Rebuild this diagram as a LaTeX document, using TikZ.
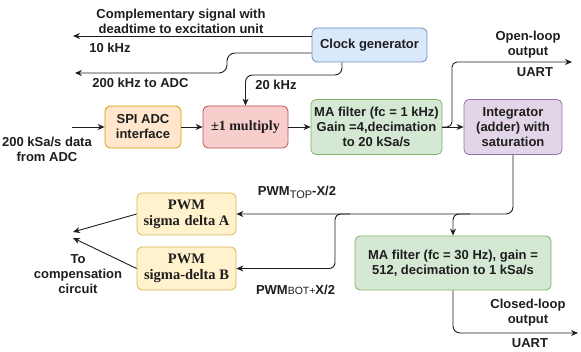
\documentclass[tikz,border=0pt]{standalone}
\usepackage{fontspec}
\setmainfont{Liberation Sans}
\newfontfamily\serifb{Liberation Serif}
\usetikzlibrary{arrows.meta}
\definecolor{bfill}{HTML}{DAE8FC}\definecolor{bdraw}{HTML}{6C8EBF}
\definecolor{ofill}{HTML}{FFE6CC}\definecolor{odraw}{HTML}{D79B00}
\definecolor{rfill}{HTML}{F8CECC}\definecolor{rdraw}{HTML}{B85450}
\definecolor{gfill}{HTML}{D5E8D4}\definecolor{gdraw}{HTML}{82B366}
\definecolor{pfill}{HTML}{E1D5E7}\definecolor{pdraw}{HTML}{9673A6}
\definecolor{yfill}{HTML}{FFF2CC}\definecolor{ydraw}{HTML}{D6B656}
\definecolor{ink}{HTML}{1E1E1E}
\begin{document}
\begin{tikzpicture}[x=1pt,y=-1pt,
  blk/.style={draw, rounded corners=5pt, line width=0.8pt, align=center, inner sep=1pt,
    text=ink, font=\bfseries\fontsize{13}{15}\selectfont},
  sblk/.style={blk, font=\serifb\bfseries\fontsize{14.5}{16}\selectfont},
  lbl/.style={align=center, inner sep=0pt, text=ink, font=\bfseries\fontsize{13}{15}\selectfont},
  arr/.style={draw=ink, line width=0.9pt, -{Stealth[length=7pt,width=6pt]}}]
\useasboundingbox (0,0) rectangle (581,352);

% boxes
\node[blk, fill=bfill, draw=bdraw, minimum width=115pt, minimum height=34pt] (clock) at (369.5,45) {Clock generator};
\node[blk, fill=ofill, draw=odraw, minimum width=76pt, minimum height=42pt] (spi) at (143,127) {SPI ADC\\interface};
\node[sblk, fill=rfill, draw=rdraw, minimum width=85pt, minimum height=42pt, font=\serifb\bfseries\fontsize{14}{16}\selectfont] (mult) at (245.5,127) {±1 multiply};
\node[blk, fill=gfill, draw=gdraw, minimum width=131pt, minimum height=55pt] (ma1) at (376.5,127) {MA filter (fc = 1 kHz)\\Gain =4,decimation\\to 20 kSa/s};
\node[blk, fill=pfill, draw=pdraw, minimum width=98pt, minimum height=55pt] (integ) at (513,127) {Integrator\\(adder) with\\saturation};
\node[sblk, fill=yfill, draw=ydraw, minimum width=99pt, minimum height=42pt] (pwma) at (186.5,214) {PWM\\sigma\,\,delta A};
\node[sblk, fill=yfill, draw=ydraw, minimum width=99pt, minimum height=43pt] (pwmb) at (186.5,268.5) {PWM\\sigma-delta B};
\node[blk, fill=gfill, draw=gdraw, minimum width=196pt, minimum height=54pt] (ma2) at (453,263) {MA filter (fc = 30 Hz), gain =\\512, decimation to 1 kSa/s};

% free ends
\coordinate (c10) at (73,36);
\coordinate (c53) at (0,53);
\coordinate (c200) at (75,73);
\coordinate (k20) at (342,75);
\coordinate (inp) at (72,127);
\coordinate (ol) at (572,62);
\coordinate (cl) at (578,333);
\coordinate (comp) at (73,232);
\coordinate (comp2) at (73,238);

% clock outputs
\draw[arr] (clock.west |- c10) -- (c10);
\draw[arr, rounded corners=8pt] (clock.west |- c53) -- (227,53) -- (227,73) -- (c200);
\draw[arr, rounded corners=7pt] (clock.south -| k20) -- (k20) -| (mult.north);

% main chain
\draw[arr] (inp) -- (spi.west);
\draw[arr] (spi.east) -- (mult.west);
\draw[arr] (mult.east) -- (mult.east -| ma1.west);
\draw[arr] (ma1.east) -- (integ.west);
\draw[arr, rounded corners=5pt] (ma1.east) -- (452,127) -- (452,62) -- (ol);

% integrator outputs
\draw[arr, rounded corners=7pt] (integ.south) -- (513,214) -- (pwma.east);
\draw[arr, rounded corners=6pt] (470,214) -- (453,214) -- (ma2.north);
\draw[arr, rounded corners=6pt] (350,214) -- (335,214) -- (335,268.5) -- (pwmb.east);

% pwm outputs
\draw[arr] (pwma.west) -- (comp);
\draw[arr] (pwmb.west) -- (comp2);

% closed-loop output
\draw[arr, rounded corners=7pt] (ma2.south) -- (453,333) -- (cl);

% labels
\node[lbl] (t1) at (181,21) {Complementary signal with\\deadtime to excitation unit};
\node[lbl] (t2) at (110,48) {10 kHz};
\node[lbl] (t3) at (140.5,83) {200 kHz to ADC};
\node[lbl] (t4) at (276,85) {20 kHz};
\node[lbl] (t5) at (47,149.5) {200 kSa/s data\\from ADC};
\node[lbl] (t6) at (528,45) {Open-loop\\output};
\node[lbl] (t7) at (535,72) {UART};
\node[lbl] (t8) at (297,192) {PWM\raisebox{-3pt}{\mdseries\fontsize{11}{12}\selectfont TOP}-X/2};
\node[lbl] (t9) at (295.5,290) {PWM{\mdseries\fontsize{10.5}{12}\selectfont BOT+}X/2};
\node[lbl] (t10) at (78,274) {To\\compensation\\circuit};
\node[lbl] (t11) at (528,313) {Closed-loop\\output};
\node[lbl] (t12) at (530,343) {UART};
\end{tikzpicture}
\end{document}
